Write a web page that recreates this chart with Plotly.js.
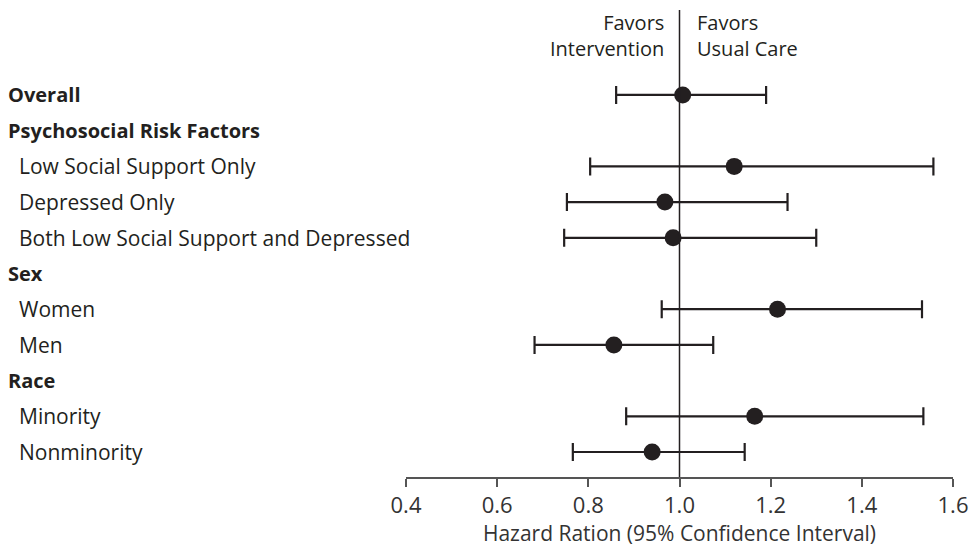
<!DOCTYPE html>
<html>
<head>
<meta charset="utf-8">
<script src="https://cdn.plot.ly/plotly-3.0.1.min.js"></script>
<style>html,body{margin:0;padding:0;background:#fff;}#chart{width:973px;height:547px;}</style>
</head>
<body>
<div id="chart"></div>
<script>
// Row labels (top to bottom)
const rows = ['Overall','Psychosocial Risk Factors','Low Social Support Only','Depressed Only',
  'Both Low Social Support and Depressed','Sex','Women','Men','Race','Minority','Nonminority'];
const headerRows = ['Overall','Psychosocial Risk Factors','Sex','Race'];
// Estimates
const groups = ['Overall','Low Social Support Only','Depressed Only','Both Low Social Support and Depressed',
  'Women','Men','Minority','Nonminority'];
const hazardRatio = [1.007, 1.12, 0.968, 0.986, 1.215, 0.856, 1.165, 0.94];
const ciLower    = [0.861, 0.804, 0.753, 0.747, 0.961, 0.682, 0.883, 0.766];
const ciUpper    = [1.19, 1.557, 1.237, 1.30, 1.532, 1.074, 1.535, 1.143];
const xTicks = [0.4, 0.6, 0.8, 1.0, 1.2, 1.4, 1.6];

const dark = '#231f20';
const FONT = 'Open Sans, DejaVu Sans, sans-serif';
const W = 973, L = 406, R = 20;
const plotW = W - L - R;
const px2paper = p => (p - L) / plotW;

const trace = {
  type: 'scatter', mode: 'markers',
  x: hazardRatio, y: groups,
  marker: {size: 17, color: dark},
  error_x: {
    type: 'data', symmetric: false,
    array: hazardRatio.map((v, i) => ciUpper[i] - v),
    arrayminus: hazardRatio.map((v, i) => v - ciLower[i]),
    color: dark, thickness: 2.2, width: 9
  },
  showlegend: false, hoverinfo: 'skip'
};

const annotations = rows.map(r => {
  const hdr = headerRows.includes(r);
  return {
    xref: 'paper', yref: 'y', x: px2paper(hdr ? 6 : 17), y: r,
    xanchor: 'left', yanchor: 'middle', showarrow: false,
    text: hdr ? '<b>' + r + '</b>' : r,
    font: {family: FONT, size: hdr ? 20 : 21, color: dark}
  };
});
const plotTop = 10, plotBottom = 477, plotH = plotBottom - plotTop;
const favY = (plotBottom - 36) / plotH;
annotations.push({
  xref: 'x', yref: 'paper', x: 1.0, y: favY, xanchor: 'right', yanchor: 'middle',
  xshift: -14, align: 'right', showarrow: false,
  text: 'Favors<br>Intervention', font: {family: FONT, size: 20, color: dark}
});
annotations.push({
  xref: 'x', yref: 'paper', x: 1.0, y: favY, xanchor: 'left', yanchor: 'middle',
  xshift: 15, align: 'left', showarrow: false,
  text: 'Favors<br>Usual Care', font: {family: FONT, size: 20, color: dark}
});

const layout = {
  width: W, height: 547,
  margin: {l: L, r: R, t: plotTop, b: 547 - plotBottom},
  paper_bgcolor: '#fff', plot_bgcolor: '#fff',
  xaxis: {
    range: [0.4, 1.6], tickvals: xTicks, ticktext: xTicks.map(v => v.toFixed(1)),
    showgrid: false, zeroline: false, showline: true, linecolor: '#555', linewidth: 2,
    ticks: 'outside', ticklen: 8, tickwidth: 2, tickcolor: '#555',
    tickfont: {family: FONT, size: 22, color: '#333'},
    title: {text: 'Hazard Ration (95% Confidence Interval)', font: {family: FONT, size: 21, color: '#333'}, standoff: 6},
    fixedrange: true
  },
  yaxis: {
    type: 'category', categoryarray: rows, range: [10.7, -2.38],
    showticklabels: false, showgrid: false, zeroline: false, showline: false, ticks: '',
    fixedrange: true
  },
  shapes: [{
    type: 'line', xref: 'x', yref: 'paper', x0: 1.0, x1: 1.0, y0: 0, y1: 1,
    line: {color: dark, width: 1.5}
  }],
  annotations: annotations
};

Plotly.newPlot('chart', [trace], layout, {displayModeBar: false, staticPlot: true});
</script>
</body>
</html>
